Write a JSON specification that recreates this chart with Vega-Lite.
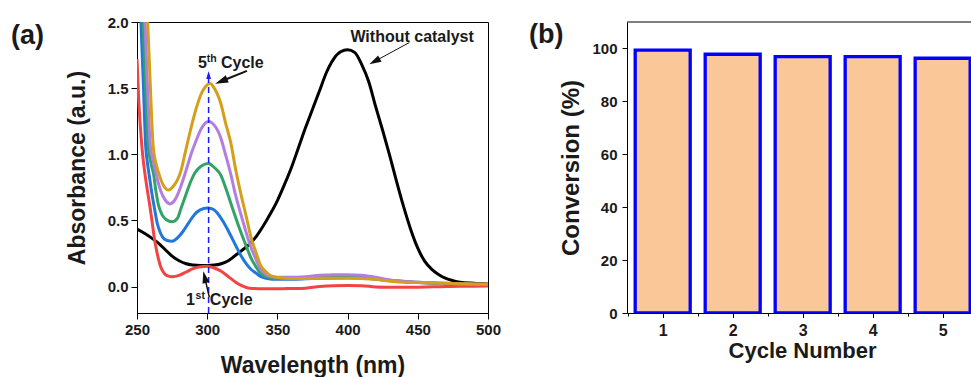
{
  "$schema": "https://vega.github.io/schema/vega-lite/v6.json",
  "padding": {"left": 10, "top": 14, "right": 0, "bottom": 0},
  "spacing": 27,
  "background": "white",
  "config": {
    "font": "Liberation Sans",
    "view": {"stroke": "black", "strokeWidth": 1},
    "axis": {
      "grid": false,
      "domainColor": "black",
      "domainWidth": 1,
      "tickColor": "black",
      "tickWidth": 1,
      "labelFont": "Liberation Sans",
      "labelFontWeight": "bold",
      "labelColor": "#1a1a1a",
      "labelFlush": false,
      "labelOverlap": false,
      "titleFont": "Liberation Sans",
      "titleFontWeight": "bold",
      "titleColor": "#1a1a1a"
    },
    "title": {"font": "Liberation Sans", "fontWeight": "bold", "color": "#1a1a1a"}
  },
  "datasets": {
    "spectra": [
      {"series": "Without catalyst", "wavelength": 250, "absorbance": 0.435},
      {"series": "Without catalyst", "wavelength": 255, "absorbance": 0.405},
      {"series": "Without catalyst", "wavelength": 260, "absorbance": 0.37},
      {"series": "Without catalyst", "wavelength": 265, "absorbance": 0.33},
      {"series": "Without catalyst", "wavelength": 270, "absorbance": 0.28},
      {"series": "Without catalyst", "wavelength": 275, "absorbance": 0.23},
      {"series": "Without catalyst", "wavelength": 280, "absorbance": 0.195},
      {"series": "Without catalyst", "wavelength": 285, "absorbance": 0.172},
      {"series": "Without catalyst", "wavelength": 290, "absorbance": 0.163},
      {"series": "Without catalyst", "wavelength": 295, "absorbance": 0.16},
      {"series": "Without catalyst", "wavelength": 300, "absorbance": 0.16},
      {"series": "Without catalyst", "wavelength": 305, "absorbance": 0.162},
      {"series": "Without catalyst", "wavelength": 310, "absorbance": 0.172},
      {"series": "Without catalyst", "wavelength": 315, "absorbance": 0.195},
      {"series": "Without catalyst", "wavelength": 320, "absorbance": 0.235},
      {"series": "Without catalyst", "wavelength": 325, "absorbance": 0.275},
      {"series": "Without catalyst", "wavelength": 330, "absorbance": 0.32},
      {"series": "Without catalyst", "wavelength": 335, "absorbance": 0.38},
      {"series": "Without catalyst", "wavelength": 340, "absorbance": 0.46},
      {"series": "Without catalyst", "wavelength": 345, "absorbance": 0.55},
      {"series": "Without catalyst", "wavelength": 350, "absorbance": 0.65},
      {"series": "Without catalyst", "wavelength": 355, "absorbance": 0.77},
      {"series": "Without catalyst", "wavelength": 360, "absorbance": 0.9},
      {"series": "Without catalyst", "wavelength": 365, "absorbance": 1.05},
      {"series": "Without catalyst", "wavelength": 370, "absorbance": 1.2},
      {"series": "Without catalyst", "wavelength": 375, "absorbance": 1.34},
      {"series": "Without catalyst", "wavelength": 380, "absorbance": 1.48},
      {"series": "Without catalyst", "wavelength": 385, "absorbance": 1.62},
      {"series": "Without catalyst", "wavelength": 390, "absorbance": 1.72},
      {"series": "Without catalyst", "wavelength": 395, "absorbance": 1.775},
      {"series": "Without catalyst", "wavelength": 400, "absorbance": 1.79},
      {"series": "Without catalyst", "wavelength": 405, "absorbance": 1.77},
      {"series": "Without catalyst", "wavelength": 410, "absorbance": 1.68},
      {"series": "Without catalyst", "wavelength": 415, "absorbance": 1.55},
      {"series": "Without catalyst", "wavelength": 420, "absorbance": 1.36},
      {"series": "Without catalyst", "wavelength": 425, "absorbance": 1.18},
      {"series": "Without catalyst", "wavelength": 430, "absorbance": 0.99},
      {"series": "Without catalyst", "wavelength": 435, "absorbance": 0.79},
      {"series": "Without catalyst", "wavelength": 440, "absorbance": 0.6},
      {"series": "Without catalyst", "wavelength": 445, "absorbance": 0.43},
      {"series": "Without catalyst", "wavelength": 450, "absorbance": 0.29},
      {"series": "Without catalyst", "wavelength": 455, "absorbance": 0.19},
      {"series": "Without catalyst", "wavelength": 460, "absorbance": 0.13},
      {"series": "Without catalyst", "wavelength": 465, "absorbance": 0.09},
      {"series": "Without catalyst", "wavelength": 470, "absorbance": 0.062},
      {"series": "Without catalyst", "wavelength": 475, "absorbance": 0.045},
      {"series": "Without catalyst", "wavelength": 480, "absorbance": 0.033},
      {"series": "Without catalyst", "wavelength": 490, "absorbance": 0.025},
      {"series": "Without catalyst", "wavelength": 500, "absorbance": 0.02},

      {"series": "Cycle 1", "wavelength": 250, "absorbance": 1.72},
      {"series": "Cycle 1", "wavelength": 250.5, "absorbance": 1.6},
      {"series": "Cycle 1", "wavelength": 251, "absorbance": 1.46},
      {"series": "Cycle 1", "wavelength": 252, "absorbance": 1.27},
      {"series": "Cycle 1", "wavelength": 253, "absorbance": 1.12},
      {"series": "Cycle 1", "wavelength": 254, "absorbance": 1.0},
      {"series": "Cycle 1", "wavelength": 255.7, "absorbance": 0.85},
      {"series": "Cycle 1", "wavelength": 257.5, "absorbance": 0.72},
      {"series": "Cycle 1", "wavelength": 259.3, "absorbance": 0.6},
      {"series": "Cycle 1", "wavelength": 261, "absorbance": 0.47},
      {"series": "Cycle 1", "wavelength": 262.3, "absorbance": 0.37},
      {"series": "Cycle 1", "wavelength": 264, "absorbance": 0.27},
      {"series": "Cycle 1", "wavelength": 265.5, "absorbance": 0.2},
      {"series": "Cycle 1", "wavelength": 267, "absorbance": 0.145},
      {"series": "Cycle 1", "wavelength": 269, "absorbance": 0.105},
      {"series": "Cycle 1", "wavelength": 271, "absorbance": 0.085},
      {"series": "Cycle 1", "wavelength": 275, "absorbance": 0.075},
      {"series": "Cycle 1", "wavelength": 280, "absorbance": 0.085},
      {"series": "Cycle 1", "wavelength": 285, "absorbance": 0.11},
      {"series": "Cycle 1", "wavelength": 290, "absorbance": 0.135},
      {"series": "Cycle 1", "wavelength": 295, "absorbance": 0.15},
      {"series": "Cycle 1", "wavelength": 300, "absorbance": 0.153},
      {"series": "Cycle 1", "wavelength": 305, "absorbance": 0.14},
      {"series": "Cycle 1", "wavelength": 310, "absorbance": 0.115},
      {"series": "Cycle 1", "wavelength": 315, "absorbance": 0.075},
      {"series": "Cycle 1", "wavelength": 320, "absorbance": 0.035},
      {"series": "Cycle 1", "wavelength": 325, "absorbance": 0.005},
      {"series": "Cycle 1", "wavelength": 330, "absorbance": -0.012},
      {"series": "Cycle 1", "wavelength": 340, "absorbance": -0.017},
      {"series": "Cycle 1", "wavelength": 350, "absorbance": -0.017},
      {"series": "Cycle 1", "wavelength": 360, "absorbance": -0.015},
      {"series": "Cycle 1", "wavelength": 370, "absorbance": -0.012},
      {"series": "Cycle 1", "wavelength": 380, "absorbance": 0.0},
      {"series": "Cycle 1", "wavelength": 390, "absorbance": 0.006},
      {"series": "Cycle 1", "wavelength": 400, "absorbance": 0.007},
      {"series": "Cycle 1", "wavelength": 410, "absorbance": 0.006},
      {"series": "Cycle 1", "wavelength": 420, "absorbance": -0.003},
      {"series": "Cycle 1", "wavelength": 430, "absorbance": -0.005},
      {"series": "Cycle 1", "wavelength": 440, "absorbance": -0.006},
      {"series": "Cycle 1", "wavelength": 450, "absorbance": -0.005},
      {"series": "Cycle 1", "wavelength": 460, "absorbance": -0.002},
      {"series": "Cycle 1", "wavelength": 470, "absorbance": 0.0},
      {"series": "Cycle 1", "wavelength": 480, "absorbance": 0.002},
      {"series": "Cycle 1", "wavelength": 490, "absorbance": 0.003},
      {"series": "Cycle 1", "wavelength": 500, "absorbance": 0.004},

      {"series": "Cycle 2", "wavelength": 252.8, "absorbance": 2.0},
      {"series": "Cycle 2", "wavelength": 254.5, "absorbance": 1.54},
      {"series": "Cycle 2", "wavelength": 256.2, "absorbance": 1.06},
      {"series": "Cycle 2", "wavelength": 257.5, "absorbance": 0.93},
      {"series": "Cycle 2", "wavelength": 259, "absorbance": 0.82},
      {"series": "Cycle 2", "wavelength": 260.5, "absorbance": 0.71},
      {"series": "Cycle 2", "wavelength": 262.3, "absorbance": 0.6},
      {"series": "Cycle 2", "wavelength": 264.4, "absorbance": 0.48},
      {"series": "Cycle 2", "wavelength": 266.5, "absorbance": 0.41},
      {"series": "Cycle 2", "wavelength": 268.5, "absorbance": 0.37},
      {"series": "Cycle 2", "wavelength": 271, "absorbance": 0.35},
      {"series": "Cycle 2", "wavelength": 275, "absorbance": 0.343},
      {"series": "Cycle 2", "wavelength": 279, "absorbance": 0.37},
      {"series": "Cycle 2", "wavelength": 283, "absorbance": 0.42},
      {"series": "Cycle 2", "wavelength": 287, "absorbance": 0.485},
      {"series": "Cycle 2", "wavelength": 291, "absorbance": 0.545},
      {"series": "Cycle 2", "wavelength": 295, "absorbance": 0.58},
      {"series": "Cycle 2", "wavelength": 300, "absorbance": 0.594},
      {"series": "Cycle 2", "wavelength": 304, "absorbance": 0.585},
      {"series": "Cycle 2", "wavelength": 308, "absorbance": 0.545},
      {"series": "Cycle 2", "wavelength": 312, "absorbance": 0.48},
      {"series": "Cycle 2", "wavelength": 317, "absorbance": 0.38},
      {"series": "Cycle 2", "wavelength": 321, "absorbance": 0.295},
      {"series": "Cycle 2", "wavelength": 324, "absorbance": 0.235},
      {"series": "Cycle 2", "wavelength": 328, "absorbance": 0.17},
      {"series": "Cycle 2", "wavelength": 331, "absorbance": 0.133},
      {"series": "Cycle 2", "wavelength": 335, "absorbance": 0.1},
      {"series": "Cycle 2", "wavelength": 338, "absorbance": 0.077},
      {"series": "Cycle 2", "wavelength": 342, "absorbance": 0.062},
      {"series": "Cycle 2", "wavelength": 346, "absorbance": 0.056},
      {"series": "Cycle 2", "wavelength": 350, "absorbance": 0.055},
      {"series": "Cycle 2", "wavelength": 360, "absorbance": 0.055},
      {"series": "Cycle 2", "wavelength": 370, "absorbance": 0.058},
      {"series": "Cycle 2", "wavelength": 380, "absorbance": 0.062},
      {"series": "Cycle 2", "wavelength": 390, "absorbance": 0.065},
      {"series": "Cycle 2", "wavelength": 400, "absorbance": 0.066},
      {"series": "Cycle 2", "wavelength": 410, "absorbance": 0.064},
      {"series": "Cycle 2", "wavelength": 420, "absorbance": 0.055},
      {"series": "Cycle 2", "wavelength": 430, "absorbance": 0.045},
      {"series": "Cycle 2", "wavelength": 440, "absorbance": 0.036},
      {"series": "Cycle 2", "wavelength": 450, "absorbance": 0.03},
      {"series": "Cycle 2", "wavelength": 460, "absorbance": 0.025},
      {"series": "Cycle 2", "wavelength": 470, "absorbance": 0.022},
      {"series": "Cycle 2", "wavelength": 480, "absorbance": 0.02},
      {"series": "Cycle 2", "wavelength": 490, "absorbance": 0.018},
      {"series": "Cycle 2", "wavelength": 500, "absorbance": 0.016},

      {"series": "Cycle 3", "wavelength": 254.3, "absorbance": 2.0},
      {"series": "Cycle 3", "wavelength": 256, "absorbance": 1.54},
      {"series": "Cycle 3", "wavelength": 258, "absorbance": 1.06},
      {"series": "Cycle 3", "wavelength": 260, "absorbance": 0.93},
      {"series": "Cycle 3", "wavelength": 261.8, "absorbance": 0.85},
      {"series": "Cycle 3", "wavelength": 263.5, "absorbance": 0.72},
      {"series": "Cycle 3", "wavelength": 265.2, "absorbance": 0.62},
      {"series": "Cycle 3", "wavelength": 268, "absorbance": 0.54},
      {"series": "Cycle 3", "wavelength": 271, "absorbance": 0.505},
      {"series": "Cycle 3", "wavelength": 275, "absorbance": 0.49},
      {"series": "Cycle 3", "wavelength": 279, "absorbance": 0.52},
      {"series": "Cycle 3", "wavelength": 281.3, "absorbance": 0.59},
      {"series": "Cycle 3", "wavelength": 284, "absorbance": 0.67},
      {"series": "Cycle 3", "wavelength": 288.5, "absorbance": 0.8},
      {"series": "Cycle 3", "wavelength": 291.3, "absorbance": 0.86},
      {"series": "Cycle 3", "wavelength": 295.6, "absorbance": 0.91},
      {"series": "Cycle 3", "wavelength": 301, "absorbance": 0.93},
      {"series": "Cycle 3", "wavelength": 305, "absorbance": 0.9},
      {"series": "Cycle 3", "wavelength": 309.8, "absorbance": 0.84},
      {"series": "Cycle 3", "wavelength": 313, "absorbance": 0.75},
      {"series": "Cycle 3", "wavelength": 317, "absorbance": 0.625},
      {"series": "Cycle 3", "wavelength": 320, "absorbance": 0.53},
      {"series": "Cycle 3", "wavelength": 324, "absorbance": 0.41},
      {"series": "Cycle 3", "wavelength": 328, "absorbance": 0.3},
      {"series": "Cycle 3", "wavelength": 331, "absorbance": 0.22},
      {"series": "Cycle 3", "wavelength": 335, "absorbance": 0.145},
      {"series": "Cycle 3", "wavelength": 338, "absorbance": 0.1},
      {"series": "Cycle 3", "wavelength": 342, "absorbance": 0.075},
      {"series": "Cycle 3", "wavelength": 345, "absorbance": 0.065},
      {"series": "Cycle 3", "wavelength": 350, "absorbance": 0.06},
      {"series": "Cycle 3", "wavelength": 360, "absorbance": 0.06},
      {"series": "Cycle 3", "wavelength": 370, "absorbance": 0.065},
      {"series": "Cycle 3", "wavelength": 380, "absorbance": 0.07},
      {"series": "Cycle 3", "wavelength": 390, "absorbance": 0.075},
      {"series": "Cycle 3", "wavelength": 400, "absorbance": 0.075},
      {"series": "Cycle 3", "wavelength": 410, "absorbance": 0.072},
      {"series": "Cycle 3", "wavelength": 420, "absorbance": 0.06},
      {"series": "Cycle 3", "wavelength": 430, "absorbance": 0.048},
      {"series": "Cycle 3", "wavelength": 440, "absorbance": 0.038},
      {"series": "Cycle 3", "wavelength": 450, "absorbance": 0.032},
      {"series": "Cycle 3", "wavelength": 460, "absorbance": 0.027},
      {"series": "Cycle 3", "wavelength": 470, "absorbance": 0.023},
      {"series": "Cycle 3", "wavelength": 480, "absorbance": 0.02},
      {"series": "Cycle 3", "wavelength": 490, "absorbance": 0.018},
      {"series": "Cycle 3", "wavelength": 500, "absorbance": 0.016},

      {"series": "Cycle 4", "wavelength": 255.7, "absorbance": 2.0},
      {"series": "Cycle 4", "wavelength": 257.4, "absorbance": 1.54},
      {"series": "Cycle 4", "wavelength": 259.5, "absorbance": 1.06},
      {"series": "Cycle 4", "wavelength": 261.5, "absorbance": 0.95},
      {"series": "Cycle 4", "wavelength": 263.6, "absorbance": 0.85},
      {"series": "Cycle 4", "wavelength": 267, "absorbance": 0.72},
      {"series": "Cycle 4", "wavelength": 270, "absorbance": 0.655},
      {"series": "Cycle 4", "wavelength": 273.5, "absorbance": 0.625},
      {"series": "Cycle 4", "wavelength": 277, "absorbance": 0.655},
      {"series": "Cycle 4", "wavelength": 281.3, "absorbance": 0.76},
      {"series": "Cycle 4", "wavelength": 285, "absorbance": 0.88},
      {"series": "Cycle 4", "wavelength": 288.5, "absorbance": 1.0},
      {"series": "Cycle 4", "wavelength": 292, "absorbance": 1.1},
      {"series": "Cycle 4", "wavelength": 295.6, "absorbance": 1.19},
      {"series": "Cycle 4", "wavelength": 301, "absorbance": 1.248},
      {"series": "Cycle 4", "wavelength": 305, "absorbance": 1.22},
      {"series": "Cycle 4", "wavelength": 309.8, "absorbance": 1.12},
      {"series": "Cycle 4", "wavelength": 313, "absorbance": 1.0},
      {"series": "Cycle 4", "wavelength": 317, "absorbance": 0.84},
      {"series": "Cycle 4", "wavelength": 320, "absorbance": 0.7},
      {"series": "Cycle 4", "wavelength": 324, "absorbance": 0.545},
      {"series": "Cycle 4", "wavelength": 328, "absorbance": 0.4},
      {"series": "Cycle 4", "wavelength": 331, "absorbance": 0.3},
      {"series": "Cycle 4", "wavelength": 335, "absorbance": 0.2},
      {"series": "Cycle 4", "wavelength": 338, "absorbance": 0.13},
      {"series": "Cycle 4", "wavelength": 342, "absorbance": 0.09},
      {"series": "Cycle 4", "wavelength": 345, "absorbance": 0.078},
      {"series": "Cycle 4", "wavelength": 350, "absorbance": 0.07},
      {"series": "Cycle 4", "wavelength": 360, "absorbance": 0.07},
      {"series": "Cycle 4", "wavelength": 370, "absorbance": 0.075},
      {"series": "Cycle 4", "wavelength": 380, "absorbance": 0.085},
      {"series": "Cycle 4", "wavelength": 390, "absorbance": 0.09},
      {"series": "Cycle 4", "wavelength": 400, "absorbance": 0.09},
      {"series": "Cycle 4", "wavelength": 410, "absorbance": 0.085},
      {"series": "Cycle 4", "wavelength": 420, "absorbance": 0.07},
      {"series": "Cycle 4", "wavelength": 430, "absorbance": 0.05},
      {"series": "Cycle 4", "wavelength": 440, "absorbance": 0.04},
      {"series": "Cycle 4", "wavelength": 450, "absorbance": 0.033},
      {"series": "Cycle 4", "wavelength": 460, "absorbance": 0.028},
      {"series": "Cycle 4", "wavelength": 470, "absorbance": 0.024},
      {"series": "Cycle 4", "wavelength": 480, "absorbance": 0.02},
      {"series": "Cycle 4", "wavelength": 490, "absorbance": 0.018},
      {"series": "Cycle 4", "wavelength": 500, "absorbance": 0.016},

      {"series": "Cycle 5", "wavelength": 257.6, "absorbance": 2.0},
      {"series": "Cycle 5", "wavelength": 259.4, "absorbance": 1.54},
      {"series": "Cycle 5", "wavelength": 261.5, "absorbance": 1.064},
      {"series": "Cycle 5", "wavelength": 263.5, "absorbance": 0.93},
      {"series": "Cycle 5", "wavelength": 265.7, "absorbance": 0.85},
      {"series": "Cycle 5", "wavelength": 268.5, "absorbance": 0.77},
      {"series": "Cycle 5", "wavelength": 272.3, "absorbance": 0.73},
      {"series": "Cycle 5", "wavelength": 276, "absorbance": 0.76},
      {"series": "Cycle 5", "wavelength": 281.3, "absorbance": 0.875},
      {"series": "Cycle 5", "wavelength": 284.5, "absorbance": 1.02},
      {"series": "Cycle 5", "wavelength": 288.5, "absorbance": 1.2},
      {"series": "Cycle 5", "wavelength": 292, "absorbance": 1.34},
      {"series": "Cycle 5", "wavelength": 295.6, "absorbance": 1.454},
      {"series": "Cycle 5", "wavelength": 299, "absorbance": 1.515},
      {"series": "Cycle 5", "wavelength": 302, "absorbance": 1.535},
      {"series": "Cycle 5", "wavelength": 305, "absorbance": 1.5},
      {"series": "Cycle 5", "wavelength": 309.8, "absorbance": 1.38},
      {"series": "Cycle 5", "wavelength": 313, "absorbance": 1.24},
      {"series": "Cycle 5", "wavelength": 317, "absorbance": 1.077},
      {"series": "Cycle 5", "wavelength": 320, "absorbance": 0.9},
      {"series": "Cycle 5", "wavelength": 324, "absorbance": 0.7},
      {"series": "Cycle 5", "wavelength": 328, "absorbance": 0.52},
      {"series": "Cycle 5", "wavelength": 331, "absorbance": 0.38},
      {"series": "Cycle 5", "wavelength": 335, "absorbance": 0.25},
      {"series": "Cycle 5", "wavelength": 338, "absorbance": 0.16},
      {"series": "Cycle 5", "wavelength": 342, "absorbance": 0.11},
      {"series": "Cycle 5", "wavelength": 345, "absorbance": 0.083},
      {"series": "Cycle 5", "wavelength": 350, "absorbance": 0.068},
      {"series": "Cycle 5", "wavelength": 360, "absorbance": 0.06},
      {"series": "Cycle 5", "wavelength": 370, "absorbance": 0.06},
      {"series": "Cycle 5", "wavelength": 380, "absorbance": 0.062},
      {"series": "Cycle 5", "wavelength": 390, "absorbance": 0.062},
      {"series": "Cycle 5", "wavelength": 400, "absorbance": 0.062},
      {"series": "Cycle 5", "wavelength": 410, "absorbance": 0.06},
      {"series": "Cycle 5", "wavelength": 420, "absorbance": 0.055},
      {"series": "Cycle 5", "wavelength": 430, "absorbance": 0.04},
      {"series": "Cycle 5", "wavelength": 440, "absorbance": 0.033},
      {"series": "Cycle 5", "wavelength": 450, "absorbance": 0.03},
      {"series": "Cycle 5", "wavelength": 460, "absorbance": 0.027},
      {"series": "Cycle 5", "wavelength": 470, "absorbance": 0.024},
      {"series": "Cycle 5", "wavelength": 480, "absorbance": 0.022},
      {"series": "Cycle 5", "wavelength": 490, "absorbance": 0.02},
      {"series": "Cycle 5", "wavelength": 500, "absorbance": 0.02}
    ],
    "conversion": [
      {"cycle": 1, "conversion": 99.4},
      {"cycle": 2, "conversion": 97.8},
      {"cycle": 3, "conversion": 96.9},
      {"cycle": 4, "conversion": 96.9},
      {"cycle": 5, "conversion": 96.3}
    ],
    "single": [{}]
  },
  "hconcat": [
    {
      "width": 351,
      "height": 291,
      "title": {"text": "(a)", "anchor": "start", "frame": "group", "offset": 0, "dx": -126, "dy": 35, "fontSize": 27},
      "layer": [
        {
          "data": {"name": "spectra"},
          "mark": {"type": "line", "clip": true, "strokeWidth": 3, "interpolate": "monotone"},
          "encoding": {
            "x": {
              "field": "wavelength", "type": "quantitative",
              "scale": {"domain": [250, 500], "nice": false, "zero": false},
              "axis": {
                "title": "Wavelength (nm)", "titleFontSize": 23, "titlePadding": 17,
                "values": [250, 275, 300, 325, 350, 375, 400, 425, 450, 475, 500],
                "labelExpr": "datum.value % 50 === 0 ? datum.label : ''",
                "labelFontSize": 15, "tickSize": 6, "labelPadding": 3
              }
            },
            "y": {
              "field": "absorbance", "type": "quantitative",
              "scale": {"domain": [-0.2, 2.0], "nice": false, "zero": false},
              "axis": {
                "title": "Absorbance (a.u.)", "titleFontSize": 23, "titlePadding": 18,
                "values": [0, 0.25, 0.5, 0.75, 1, 1.25, 1.5, 1.75, 2],
                "labelExpr": "datum.value % 0.5 === 0 ? format(datum.value, '.1f') : ''",
                "labelFontSize": 15, "tickSize": 6, "labelPadding": 3
              }
            },
            "color": {
              "field": "series", "type": "nominal", "legend": null,
              "scale": {
                "domain": ["Without catalyst", "Cycle 1", "Cycle 2", "Cycle 3", "Cycle 4", "Cycle 5"],
                "range": ["#000000", "#f24444", "#2277dd", "#33a266", "#b27ee2", "#d4a01c"]
              }
            },
            "strokeWidth": {
              "field": "series", "type": "nominal", "legend": null,
              "scale": {
                "domain": ["Without catalyst", "Cycle 1", "Cycle 2", "Cycle 3", "Cycle 4", "Cycle 5"],
                "range": [2.6, 3, 3, 3, 3, 3]
              }
            }
          }
        },
        {
          "data": {"name": "single"},
          "mark": {"type": "rule", "color": "#1a1aff", "strokeWidth": 1.5, "strokeDash": [6, 4]},
          "encoding": {
            "x": {"datum": 301, "type": "quantitative"},
            "y": {"datum": -0.2, "type": "quantitative"},
            "y2": {"datum": 1.6}
          }
        },
        {
          "data": {"name": "single"},
          "mark": {"type": "point", "shape": "M0,-1L0.6,1L-0.6,1Z", "filled": true, "opacity": 1, "color": "#1a1aff", "size": 64, "strokeWidth": 0},
          "encoding": {
            "x": {"datum": 301, "type": "quantitative"},
            "y": {"datum": 1.6, "type": "quantitative"}
          }
        },
        {
          "data": {"name": "single"},
          "mark": {"type": "rule", "color": "#111", "strokeWidth": 2},
          "encoding": {
            "x": {"datum": 328.3, "type": "quantitative"},
            "y": {"datum": 1.63, "type": "quantitative"},
            "x2": {"datum": 310.0},
            "y2": {"datum": 1.552}
          }
        },
        {
          "data": {"name": "single"},
          "mark": {"type": "point", "shape": "M0,-1L0.6,1L-0.6,1Z", "filled": true, "opacity": 1, "color": "#111", "size": 169, "strokeWidth": 0, "angle": 248},
          "encoding": {
            "x": {"datum": 310.0, "type": "quantitative"},
            "y": {"datum": 1.552, "type": "quantitative"}
          }
        },
        {
          "data": {"name": "single"},
          "mark": {"type": "rule", "color": "#111", "strokeWidth": 1},
          "encoding": {
            "x": {"datum": 444, "type": "quantitative"},
            "y": {"datum": 1.845, "type": "quantitative"},
            "x2": {"datum": 419.2},
            "y2": {"datum": 1.702}
          }
        },
        {
          "data": {"name": "single"},
          "mark": {"type": "point", "shape": "M0,-1L0.6,1L-0.6,1Z", "filled": true, "opacity": 1, "color": "#111", "size": 144, "strokeWidth": 0, "angle": 241.6},
          "encoding": {
            "x": {"datum": 419.2, "type": "quantitative"},
            "y": {"datum": 1.702, "type": "quantitative"}
          }
        },
        {
          "data": {"name": "single"},
          "mark": {"type": "rule", "color": "#111", "strokeWidth": 1.5},
          "encoding": {
            "x": {"datum": 301.5, "type": "quantitative"},
            "y": {"datum": -0.08, "type": "quantitative"},
            "x2": {"datum": 298.2},
            "y2": {"datum": 0.0717}
          }
        },
        {
          "data": {"name": "single"},
          "mark": {"type": "point", "shape": "M0,-1L0.6,1L-0.6,1Z", "filled": true, "opacity": 1, "color": "#111", "size": 144, "strokeWidth": 0, "angle": 347},
          "encoding": {
            "x": {"datum": 298.2, "type": "quantitative"},
            "y": {"datum": 0.0717, "type": "quantitative"}
          }
        },
        {
          "data": {"name": "single"},
          "mark": {"type": "text", "align": "left", "baseline": "alphabetic", "fontSize": 16, "fontWeight": "bold", "color": "#1a1a1a"},
          "encoding": {
            "x": {"datum": 402, "type": "quantitative"},
            "y": {"datum": 1.85, "type": "quantitative"},
            "text": {"value": "Without catalyst"}
          }
        },
        {
          "data": {"name": "single"},
          "mark": {"type": "text", "align": "left", "baseline": "alphabetic", "fontSize": 16, "fontWeight": "bold", "color": "#1a1a1a"},
          "encoding": {
            "x": {"datum": 293.5, "type": "quantitative"},
            "y": {"datum": 1.655, "type": "quantitative"},
            "text": {"value": "5"}
          }
        },
        {
          "data": {"name": "single"},
          "mark": {"type": "text", "align": "left", "baseline": "alphabetic", "fontSize": 10.5, "fontWeight": "bold", "color": "#1a1a1a", "dy": -6},
          "encoding": {
            "x": {"datum": 299.6, "type": "quantitative"},
            "y": {"datum": 1.655, "type": "quantitative"},
            "text": {"value": "th"}
          }
        },
        {
          "data": {"name": "single"},
          "mark": {"type": "text", "align": "left", "baseline": "alphabetic", "fontSize": 16, "fontWeight": "bold", "color": "#1a1a1a"},
          "encoding": {
            "x": {"datum": 309.8, "type": "quantitative"},
            "y": {"datum": 1.655, "type": "quantitative"},
            "text": {"value": "Cycle"}
          }
        },
        {
          "data": {"name": "single"},
          "mark": {"type": "text", "align": "left", "baseline": "alphabetic", "fontSize": 16, "fontWeight": "bold", "color": "#1a1a1a"},
          "encoding": {
            "x": {"datum": 284.9, "type": "quantitative"},
            "y": {"datum": -0.143, "type": "quantitative"},
            "text": {"value": "1"}
          }
        },
        {
          "data": {"name": "single"},
          "mark": {"type": "text", "align": "left", "baseline": "alphabetic", "fontSize": 10.5, "fontWeight": "bold", "color": "#1a1a1a", "dy": -6},
          "encoding": {
            "x": {"datum": 291.7, "type": "quantitative"},
            "y": {"datum": -0.143, "type": "quantitative"},
            "text": {"value": "st"}
          }
        },
        {
          "data": {"name": "single"},
          "mark": {"type": "text", "align": "left", "baseline": "alphabetic", "fontSize": 16, "fontWeight": "bold", "color": "#1a1a1a"},
          "encoding": {
            "x": {"datum": 301.9, "type": "quantitative"},
            "y": {"datum": -0.143, "type": "quantitative"},
            "text": {"value": "Cycle"}
          }
        }
      ]
    },
    {
      "width": 344,
      "height": 291,
      "view": {"stroke": null},
      "title": {"text": "(b)", "anchor": "start", "frame": "group", "offset": 0, "dx": -98, "dy": 27, "fontSize": 27},
      "layer": [
        {
          "data": {"name": "conversion"},
          "mark": {"type": "bar", "fill": "#fac898", "stroke": "#0000ff", "strokeWidth": 3.3, "size": 55, "clip": true},
          "encoding": {
            "x": {
              "field": "cycle", "type": "quantitative",
              "scale": {"domain": [0.49, 5.405], "nice": false, "zero": false, "padding": 0},
              "axis": {
                "title": "Cycle Number", "titleFontSize": 22, "titlePadding": 2, "titleX": 175,
                "values": [0.5, 1, 1.5, 2, 2.5, 3, 3.5, 4, 4.5, 5],
                "labelExpr": "datum.value % 1 === 0 ? format(datum.value, 'd') : ''",
                "labelFontSize": 16, "labelPadding": 5,
                "tickSize": {"condition": {"test": "datum.value % 1 === 0", "value": 4.5}, "value": 3}
              }
            },
            "y": {
              "field": "conversion", "type": "quantitative",
              "scale": {"domain": [0, 110], "nice": false},
              "axis": {
                "title": "Conversion (%)", "titleFontSize": 24, "titlePadding": 8,
                "values": [0, 10, 20, 30, 40, 50, 60, 70, 80, 90, 100, 110],
                "labelExpr": "datum.value % 20 === 0 ? format(datum.value, 'd') : ''",
                "labelFontSize": 15, "labelPadding": 5,
                "tickSize": {"condition": {"test": "datum.value % 20 === 0", "value": 5}, "value": 3}
              }
            }
          }
        },
        {
          "data": {"name": "single"},
          "mark": {"type": "rule", "color": "black", "strokeWidth": 1},
          "encoding": {
            "y": {"datum": 110, "type": "quantitative"}
          }
        }
      ]
    }
  ]
}
